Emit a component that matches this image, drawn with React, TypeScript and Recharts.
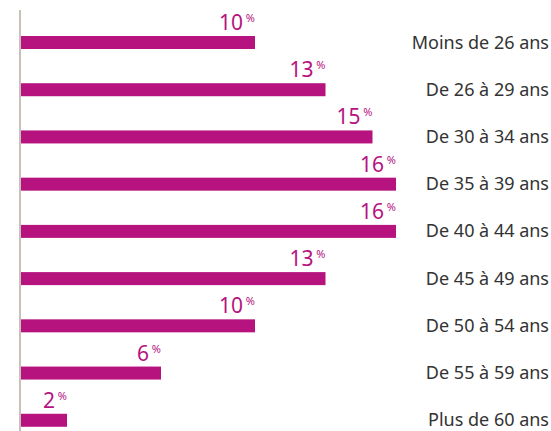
import React from "react";
import { BarChart, Bar, XAxis, YAxis, LabelList, ReferenceLine } from "recharts";

const categories = [
  "Moins de 26 ans",
  "De 26 à 29 ans",
  "De 30 à 34 ans",
  "De 35 à 39 ans",
  "De 40 à 44 ans",
  "De 45 à 49 ans",
  "De 50 à 54 ans",
  "De 55 à 59 ans",
  "Plus de 60 ans",
];
const shares = [10, 13, 15, 16, 16, 13, 10, 6, 2];

const data = categories.map((name, i) => ({ name, value: shares[i] }));

const MAGENTA = "#b6137f";
const BAR_H = 13;
const SHIFT = 9; // bar sits in lower part of its band

const BarShape = (props: any) => {
  const { x, y, width, height } = props;
  const cy = y + height / 2 + SHIFT;
  return <rect x={x} y={cy - BAR_H / 2} width={width} height={BAR_H} fill={MAGENTA} />;
};

const ValueLabel = (props: any) => {
  const { x, y, width, height, value } = props;
  const cy = y + height / 2 + SHIFT;
  const top = cy - BAR_H / 2;
  const end = x + width;
  return (
    <g>
      <text
        x={end - 12}
        y={top - 6}
        textAnchor="end"
        fill={MAGENTA}
        fontSize={21}
        fontFamily="'Noto Sans', sans-serif"
      >
        {Math.round(value)}
      </text>
      <text
        x={end}
        y={top - 14}
        textAnchor="end"
        fill={MAGENTA}
        fontSize={11}
        fontFamily="'Noto Sans', sans-serif"
      >
        %
      </text>
    </g>
  );
};

const CategoryLabel = (props: any) => {
  const { y, height, value } = props;
  const cy = y + height / 2 + SHIFT;
  return (
    <text
      x={549}
      y={cy}
      dy={6}
      textAnchor="end"
      fill="#333333"
      fontSize={18}
      fontFamily="'Noto Sans', sans-serif"
    >
      {value}
    </text>
  );
};

export default function App() {
  return (
    <div style={{ position: "absolute", left: 0, top: 0, width: 551, height: 431, overflow: "hidden", background: "#fff" }}>
      <BarChart
        width={551}
        height={436}
        data={data}
        layout="vertical"
        margin={{ top: 10, right: 61, bottom: 1, left: 20 }}
        barCategoryGap={0}
      >
        <XAxis type="number" domain={[0, 20]} hide />
        <YAxis type="category" dataKey="name" hide />
        <Bar dataKey="value" shape={<BarShape />} isAnimationActive={false}>
          <LabelList dataKey="value" content={<ValueLabel />} />
          <LabelList dataKey="name" content={<CategoryLabel />} />
        </Bar>
        <ReferenceLine x={0} stroke="#c8c1ba" strokeWidth={2} ifOverflow="visible" />
      </BarChart>
    </div>
  );
}
